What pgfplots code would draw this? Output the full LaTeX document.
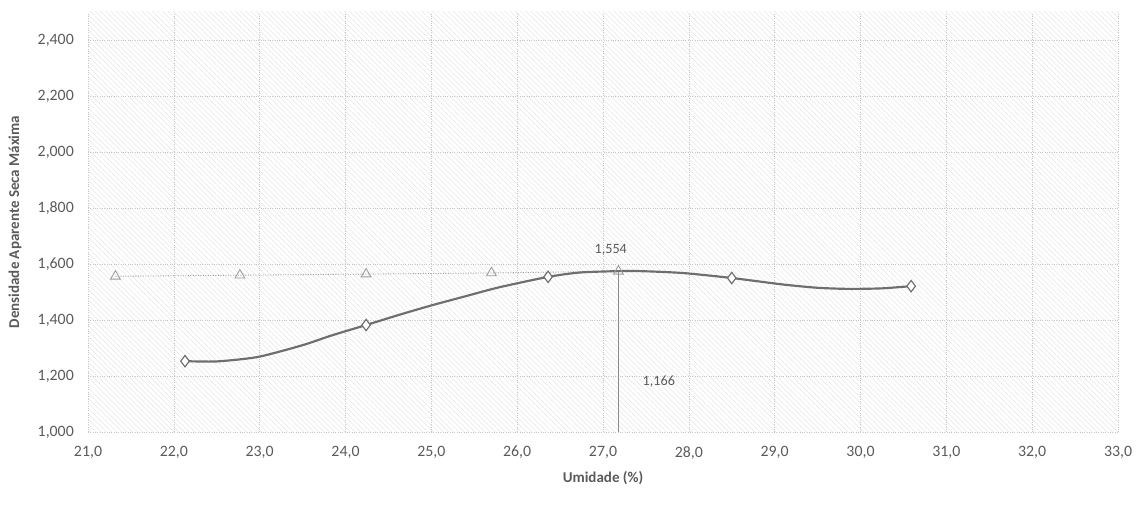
\documentclass[border=0pt]{standalone}
\usepackage{pgfplots}
\pgfplotsset{compat=1.18}
\usepackage{fontspec}
\setmainfont{Carlito}
\usetikzlibrary{patterns.meta}
\definecolor{txt}{HTML}{5A5A5A}
\definecolor{curve}{HTML}{6E6E6E}
\definecolor{tri}{HTML}{9A9A9A}
\begin{document}
\begin{tikzpicture}
\begin{axis}[
  scale only axis, width=618pt, height=252pt,
  at={(0,0)}, anchor=south west,
  xmin=21, xmax=33, ymin=1.0, ymax=2.5,
  xtick={21,22,...,33}, ytick={1.0,1.2,...,2.41},
  axis line style={draw=none}, tick style={draw=none},
  grid=major, major grid style={densely dotted, gray!45, line width=0.4pt},
  axis background/.style={pattern={Lines[angle=-45,distance=2.2pt,line width=0.3pt]}, pattern color=gray!20},
  ticklabel style={font=\fontsize{9.5}{11}\selectfont, text=txt},
  xticklabel style={yshift=-5pt},
  yticklabel style={xshift=-5pt},
  /pgf/number format/assume math mode=true,
  xticklabel={\pgfmathprintnumber[fixed,fixed zerofill,precision=1,use comma]{\tick}},
  yticklabel={\pgfmathprintnumber[fixed,fixed zerofill,precision=3,use comma]{\tick}},
  xlabel={\textbf{Umidade (\%)}},
  ylabel={\textbf{Densidade Aparente Seca Máxima}},
  label style={font=\fontsize{9}{11}\selectfont, text=txt},
  xlabel style={at={(axis description cs:0.5,-0.1095)}, anchor=center},
  ylabel style={at={(axis description cs:-0.0709,0.5)}, anchor=center},
  clip=false,
]
% saturation points and reference lines
\addplot[densely dotted, tri, line width=0.5pt, mark=triangle, mark size=3.4pt, mark options={solid, draw=tri, fill=none}]
  coordinates {(21.32,1.556) (22.77,1.560) (24.24,1.564) (25.70,1.568) (27.18,1.574)};
\addplot[curve!80, line width=0.6pt] coordinates {(27.18,1.0) (27.18,1.574)};
% compaction curve (traced)
\addplot[curve, line width=1.3pt, smooth, tension=0.4]
  coordinates {(22.13,1.253) (22.5,1.252) (22.98,1.268) (23.5,1.310) (23.84,1.345) (24.24,1.382) (24.62,1.418) (25.0,1.452) (25.40,1.485) (25.78,1.516) (26.36,1.554) (26.75,1.570) (27.34,1.575) (27.92,1.568) (28.50,1.550) (29.09,1.527) (29.5,1.515) (29.87,1.511) (30.25,1.513) (30.59,1.521)};
\addplot[only marks, mark=diamond*, mark size=3.4pt, mark options={fill=white, draw=curve, line width=0.7pt}]
  coordinates {(22.13,1.253) (24.24,1.382) (26.36,1.554) (28.50,1.550) (30.59,1.521)};
\node[font=\fontsize{8.5}{10}\selectfont, text=txt] at (axis cs:27.09,1.650) {1,554};
\node[font=\fontsize{8.5}{10}\selectfont, text=txt] at (axis cs:27.65,1.179) {1,166};
\end{axis}
\pgfresetboundingbox
\path[use as bounding box] (-52.8pt,-45pt) rectangle (631.8pt,259.2pt);
\end{tikzpicture}
\end{document}
